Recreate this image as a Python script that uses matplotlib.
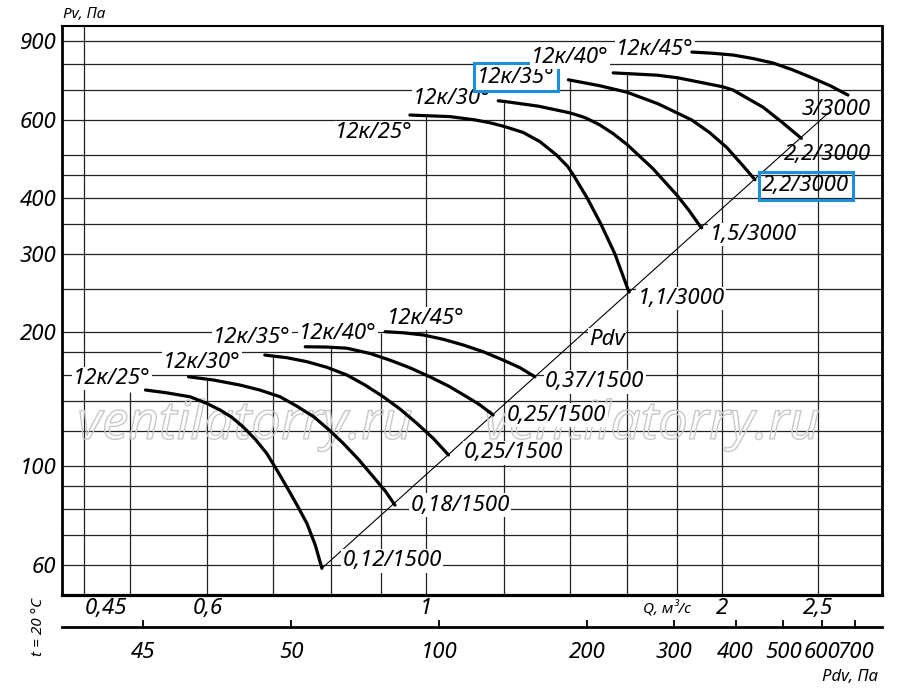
import matplotlib
matplotlib.use('Agg')
import matplotlib.pyplot as plt
import matplotlib.patheffects as pe
from matplotlib.ticker import NullLocator
import numpy as np

plt.rcParams['font.family'] = ['Noto Sans', 'DejaVu Sans']
plt.rcParams['font.style'] = 'italic'

# --- fan curves, 3000 rpm (Q in m3/s, Pv in Pa) ---
q_hi_25 = [0.963, 1.0, 1.058, 1.12, 1.161, 1.2, 1.255, 1.305, 1.357, 1.393,
           1.412, 1.458, 1.505, 1.555, 1.603, 1.608]
p_hi_25 = [615, 613, 610, 600, 591, 580, 562, 536, 500, 471,
           450, 400, 350, 300, 250, 246]
q_hi_30 = [1.184, 1.2, 1.3, 1.4, 1.45, 1.5, 1.55, 1.6, 1.7, 1.8, 1.85, 1.9, 1.905]
p_hi_30 = [662, 660, 644, 622, 607, 585, 558, 528, 466, 405, 375, 345, 343]
q_hi_35 = [1.395, 1.5, 1.6, 1.72, 1.86, 1.94, 2.02, 2.1, 2.158]
p_hi_35 = [738, 716, 692, 652, 600, 562, 520, 472, 440]
q_hi_40 = [1.549, 1.715, 1.8, 2.0, 2.05, 2.2, 2.3, 2.405]
p_hi_40 = [765, 756, 746, 712, 700, 640, 592, 545]
q_hi_45 = [1.862, 1.951, 2.050, 2.148, 2.251, 2.353, 2.454, 2.572, 2.682]
p_hi_45 = [852, 847, 839, 824, 805, 778, 749, 716, 682]

# --- fan curves, 1500 rpm ---
q_lo_25 = [0.519, 0.545, 0.576, 0.599, 0.618, 0.635, 0.652, 0.671, 0.689,
           0.705, 0.722, 0.739, 0.757, 0.772, 0.784]
p_lo_25 = [148.2, 146.1, 143.1, 138.3, 133.6, 128.7, 122.5, 114.8, 106.8,
           98.3, 89.8, 82.0, 74.3, 66.4, 58.9]
q_lo_30 = [0.574, 0.608, 0.647, 0.678, 0.711, 0.739, 0.769, 0.796, 0.824,
           0.854, 0.884, 0.909, 0.930]
p_lo_30 = [158.7, 156.1, 152.1, 148.2, 143.1, 136.4, 129.1, 120.9, 112.5,
           103.5, 94.6, 87.9, 81.7]
q_lo_35 = [0.686, 0.722, 0.757, 0.793, 0.831, 0.867, 0.905, 0.941, 0.979,
           1.017, 1.054]
p_lo_35 = [177.6, 175.2, 171.6, 166.7, 160.2, 152.1, 143.1, 134.3, 124.7,
           115.4, 105.9]
q_lo_40 = [0.754, 0.793, 0.831, 0.877, 0.919, 0.963, 1.009, 1.054, 1.100,
           1.135, 1.170]
p_lo_40 = [185.4, 185.1, 184.0, 179.1, 173.0, 166.3, 158.7, 151.3, 143.1,
           137.1, 130.2]
q_lo_45 = [0.909, 0.948, 0.994, 1.041, 1.091, 1.143, 1.198, 1.246, 1.290]
p_lo_45 = [200.4, 199.3, 197.0, 192.7, 187.1, 180.7, 173.0, 166.3, 158.7]

# dynamic pressure line
q_pdv = [0.784, 2.56]
p_pdv = [58.9, 621]

blade_labels = ['12к/25°', '12к/30°', '12к/35°', '12к/40°', '12к/45°']
motor_hi = ['1,1/3000', '1,5/3000', '2,2/3000', '2,2/3000', '3/3000']
motor_lo = ['0,12/1500', '0,18/1500', '0,25/1500', '0,25/1500', '0,37/1500']

# grid
grid_p = [60, 70, 80, 90, 100, 120, 140, 160, 180, 200, 250, 300, 350,
          400, 450, 500, 600, 700, 800, 900]
grid_q = [0.45, 0.5, 0.6, 0.7, 0.8, 0.9, 1.0, 1.2, 1.4, 1.6, 1.8, 2.0, 2.5]
grid_q_top = [975, 147, 156, 178, 185, 199, 613, 660, 738, 765, 746, 840, 735]

# ticks
p_ticks = [60, 100, 200, 300, 400, 600, 900]
q_ticks = [0.45, 0.6, 1, 2, 2.5]
q_tick_labels = ['0,45', '0,6', '1', '2', '2,5']
pdv_ticks = [25, 50, 100, 200, 300, 400, 500, 600, 700]
pdv_tick_labels = ['45', '50', '100', '200', '300', '400', '500', '600', '700']
K_PDV = 94.0

# label anchor positions (Q, Pv)
blade_hi_pos = [(0.885, 563), (1.063, 671), (1.234, 748), (1.400, 830), (1.708, 865)]
motor_hi_pos = [(1.815, 238), (2.148, 332), (2.431, 426), (2.559, 502), (2.608, 634)]
blade_lo_pos = [(0.480, 157.6), (0.592, 171.3), (0.666, 194), (0.814, 199), (1.0, 215)]
motor_lo_pos = [(0.924, 61.2), (1.083, 81.7), (1.228, 107), (1.358, 130.2), (1.484, 154.5)]
watermark_pos = [(0.655, 123.6), (1.696, 123.6)]

BLUE = '#1a8fdc'
FS = 16

fig = plt.figure(figsize=(9, 6.89), dpi=100)
ax = fig.add_axes([62 / 900, 1 - 595 / 689, 820 / 900, 569 / 689])
ax.set_xscale('log')
ax.set_yscale('log')
ax.set_xlim(0.427, 2.904)
ax.set_ylim(51.3, 975)

# grid lines
for p in grid_p:
    ax.axhline(p, color='#222222', lw=0.9, zorder=1)
ax.vlines(grid_q, 51.3, grid_q_top, color='#222222', lw=0.9, zorder=1)

# Pdv line
ax.plot(q_pdv, p_pdv, color='black', lw=0.8, zorder=2)

hi_curves = [(q_hi_25, p_hi_25), (q_hi_30, p_hi_30), (q_hi_35, p_hi_35),
             (q_hi_40, p_hi_40), (q_hi_45, p_hi_45)]
lo_curves = [(q_lo_25, p_lo_25), (q_lo_30, p_lo_30), (q_lo_35, p_lo_35),
             (q_lo_40, p_lo_40), (q_lo_45, p_lo_45)]
for q, p in hi_curves + lo_curves:
    ax.plot(q, p, color='black', lw=2.3, solid_capstyle='round',
            solid_joinstyle='round', zorder=5)

white_box = dict(boxstyle='square,pad=0.05', fc='white', ec='none')

for i, txt in enumerate(blade_labels):
    x, y = blade_hi_pos[i]
    box = white_box
    if i == 2:
        box = dict(boxstyle='square,pad=0.15', fc='white', ec=BLUE, lw=2.2)
    ax.text(x, y, txt, fontsize=FS, ha='center', va='center', bbox=box, zorder=4)
    x, y = blade_lo_pos[i]
    ax.text(x, y, txt, fontsize=FS, ha='center', va='center', bbox=white_box, zorder=4)

for i, txt in enumerate(motor_hi):
    x, y = motor_hi_pos[i]
    box = white_box if i < 2 else None
    if i == 2:
        box = dict(boxstyle='square,pad=0.15', fc='none', ec=BLUE, lw=2.2)
    ax.text(x, y, txt, fontsize=FS, ha='center', va='center', bbox=box, zorder=4)

for i, txt in enumerate(motor_lo):
    x, y = motor_lo_pos[i]
    ax.text(x, y, txt, fontsize=FS, ha='center', va='center', bbox=white_box, zorder=4)

ax.text(1.527, 192, 'Pdv', fontsize=FS, ha='center', va='center', bbox=white_box, zorder=4)

# watermark
for wx, wy in watermark_pos:
    ax.text(wx, wy, 'ventilatorry.ru', fontsize=38, ha='center', va='center',
            color='none', zorder=3,
            path_effects=[pe.Stroke(linewidth=1.0, foreground='#c8c8c8')])

# axes styling
ax.xaxis.set_minor_locator(NullLocator())
ax.yaxis.set_minor_locator(NullLocator())
ax.set_yticks(p_ticks, [str(v) for v in p_ticks])
ax.set_xticks(q_ticks, q_tick_labels)
ax.get_xticklabels()[0].set_ha('left')
ax.tick_params(axis='both', length=0, labelsize=FS)
ax.tick_params(axis='y', pad=4)
ax.tick_params(axis='x', pad=2)
ax.spines['left'].set_linewidth(2)
ax.spines['bottom'].set_linewidth(2.3)
ax.spines['right'].set_linewidth(2)
ax.spines['top'].set_linewidth(1.5)


def q2p(q):
    return K_PDV * np.asarray(q) ** 2


def p2q(p):
    return np.sqrt(np.maximum(np.asarray(p, dtype=float), 1e-9) / K_PDV)


sec = ax.secondary_xaxis(-32 / 569, functions=(q2p, p2q))
sec.set_xticks(pdv_ticks, pdv_tick_labels)
sec.xaxis.set_minor_locator(NullLocator())
sec.tick_params(direction='in', length=5, width=1.3, pad=11, labelsize=FS)
for s in sec.spines.values():
    s.set_linewidth(2)

fig.text(63 / 900, 1 - 14 / 689, 'Pv, Па', fontsize=11, ha='left', va='center')
fig.text(667 / 900, 1 - 609 / 689, 'Q, м³/с', fontsize=11, ha='center', va='center')
fig.text(850 / 900, 1 - 677 / 689, 'Pdv, Па', fontsize=12, ha='center', va='center')
fig.text(39 / 900, 1 - 627 / 689, 't = 20 °C', fontsize=11, ha='center',
         va='center', rotation=90)

fig.savefig('out.png', dpi=100, facecolor='white')
